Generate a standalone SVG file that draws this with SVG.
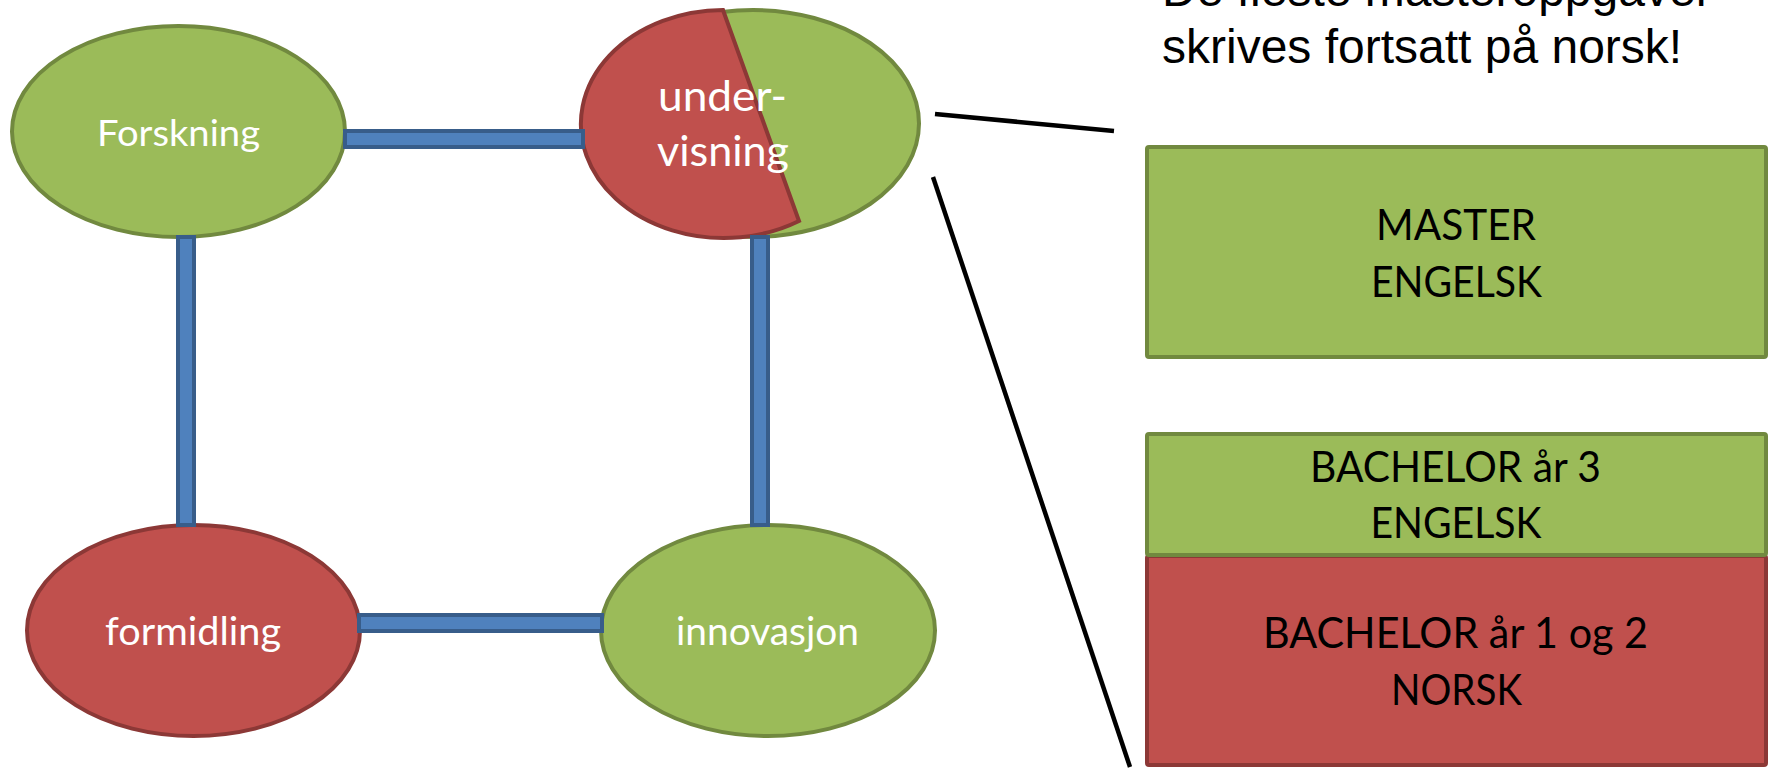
<svg xmlns="http://www.w3.org/2000/svg" width="1772" height="769" viewBox="0 0 1772 769">
<style>
.g{fill:#9BBB59;stroke:#71893F;stroke-width:4}
.r{fill:#C0504D;stroke:#8C3836;stroke-width:4;stroke-linejoin:miter}
.bar{fill:#4F81BD;stroke:#385D8A;stroke-width:4}
.lbl{font-family:Lato,"Open Sans",sans-serif;fill:#FFFFFF;text-anchor:middle}
.box{font-family:Lato,"Open Sans",sans-serif;fill:#000000;text-anchor:middle;font-size:42px}
.hdr{font-family:"Liberation Sans",Arial,sans-serif;fill:#000000;font-size:48px}
.ln{stroke:#000000;stroke-width:4.5;fill:none}
</style>
<rect width="1772" height="769" fill="#FFFFFF"/>
<g id="header">
<text class="hdr" x="1162" y="6">De fleste masteroppgaver</text>
<text class="hdr" x="1162" y="63">skrives fortsatt på norsk!</text>
</g>
<g id="forskning">
<ellipse class="g" cx="178.5" cy="131.5" rx="166.5" ry="105.5"/>
<text class="lbl" x="178.5" y="146" font-size="37.5" textLength="163" lengthAdjust="spacingAndGlyphs">Forskning</text>
</g>
<g id="undervisning">
<ellipse class="g" cx="753" cy="123.5" rx="166" ry="113.5"/>
<path class="r" d="M723,10 A143 114 0 1 0 799,221 Z"/>
<text class="lbl" x="722.5" y="111" font-size="42" textLength="129" lengthAdjust="spacingAndGlyphs">under-</text>
<text class="lbl" x="723" y="166" font-size="42" textLength="132" lengthAdjust="spacingAndGlyphs">visning</text>
</g>
<g id="formidling">
<ellipse class="r" cx="193.5" cy="630.5" rx="166.5" ry="105.5"/>
<text class="lbl" x="193" y="645" font-size="38" textLength="176" lengthAdjust="spacingAndGlyphs">formidling</text>
</g>
<g id="innovasjon">
<ellipse class="g" cx="768" cy="630.5" rx="167" ry="105.5"/>
<text class="lbl" x="767.5" y="645" font-size="38" textLength="183" lengthAdjust="spacingAndGlyphs">innovasjon</text>
</g>
<g id="connectors">
<rect class="bar" x="345" y="131" width="238" height="16"/>
<rect class="bar" x="359" y="615" width="243" height="16"/>
<rect class="bar" x="178" y="237" width="16" height="288"/>
<rect class="bar" x="752" y="237" width="16" height="288"/>
<line class="ln" x1="935" y1="114" x2="1114" y2="131"/>
<line class="ln" x1="933" y1="177" x2="1130" y2="767"/>
</g>
<g id="master">
<rect class="g" x="1147" y="147" width="619" height="210" rx="2"/>
<text class="box" x="1456" y="240" textLength="160" lengthAdjust="spacingAndGlyphs">MASTER</text>
<text class="box" x="1456.5" y="297" textLength="171" lengthAdjust="spacingAndGlyphs">ENGELSK</text>
</g>
<g id="bachelor12">
<rect class="r" x="1147" y="556" width="619" height="209" rx="2"/>
<text class="box" x="1455.5" y="648" textLength="385" lengthAdjust="spacingAndGlyphs">BACHELOR år 1 og 2</text>
<text class="box" x="1456.5" y="705" textLength="131" lengthAdjust="spacingAndGlyphs">NORSK</text>
</g>
<g id="bachelor3">
<rect class="g" x="1147" y="434" width="619" height="121" rx="2"/>
<text class="box" x="1455.5" y="482" textLength="291" lengthAdjust="spacingAndGlyphs">BACHELOR år 3</text>
<text class="box" x="1456" y="538" textLength="171" lengthAdjust="spacingAndGlyphs">ENGELSK</text>
</g>
</svg>
